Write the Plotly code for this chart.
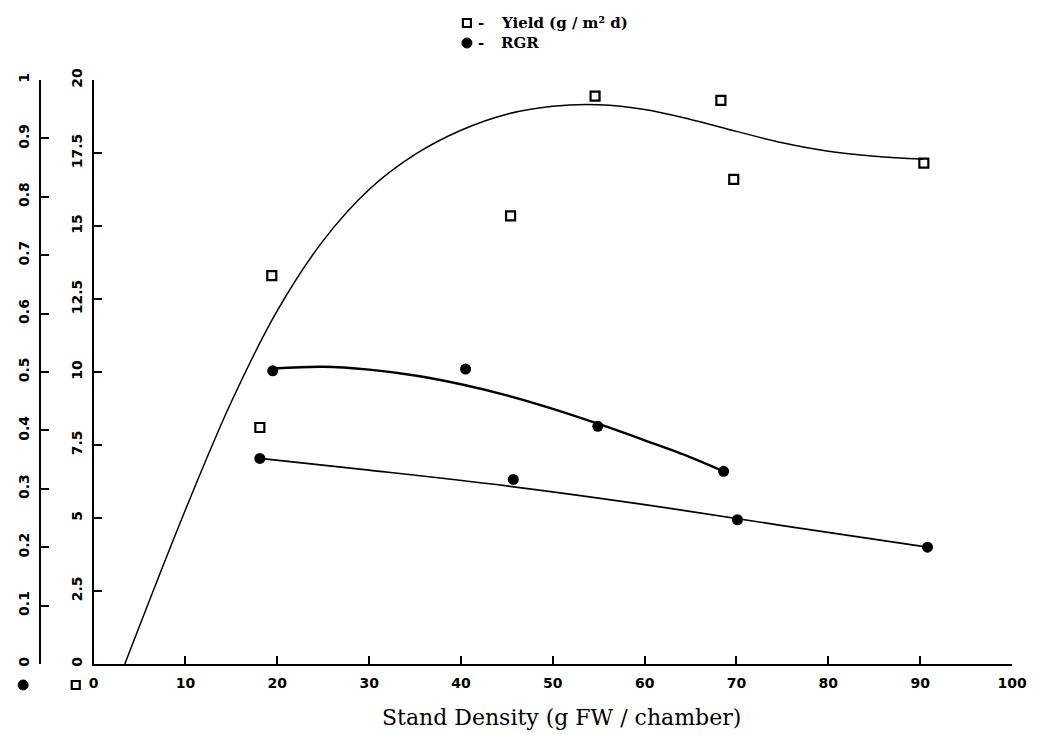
import plotly.graph_objects as go

# ---- data ----
yield_density = [18.1, 19.4, 40.3, 45.4, 54.6, 68.3, 69.7, 90.4]
yield_values = [8.1, 13.3, 20.1, 15.35, 19.45, 19.3, 16.6, 17.15]

rgr_density = [18.1, 19.5, 40.5, 45.7, 54.9, 68.6, 70.1, 90.8]
rgr_values = [0.352, 0.502, 0.505, 0.316, 0.407, 0.330, 0.247, 0.200]

# fitted curves
yield_fit_x = [3.4, 10, 15, 20, 25, 30, 35, 40, 45, 50, 55, 60, 65, 70, 75, 80, 85, 90.3]
yield_fit_y = [0, 5.28, 8.98, 12.1, 14.5, 16.25, 17.45, 18.28, 18.83, 19.1, 19.15, 18.99,
               18.65, 18.24, 17.85, 17.56, 17.39, 17.29]

rgr_fit1_x = [19.6, 25, 30, 35, 40, 45, 50, 55, 60, 65, 68.6]
rgr_fit1_y = [0.506, 0.509, 0.504, 0.494, 0.479, 0.460, 0.437, 0.411, 0.383, 0.354, 0.330]

rgr_fit2_x = [18.1, 30, 45, 60, 75, 90.8]
rgr_fit2_y = [0.352, 0.332, 0.305, 0.273, 0.237, 0.200]

x_ticks = [0, 10, 20, 30, 40, 50, 60, 70, 80, 90, 100]
yield_ticks = [0, 2.5, 5, 7.5, 10, 12.5, 15, 17.5, 20]
yield_ticktext = ["0", "2.5", "5", "7.5", "10", "12.5", "15", "17.5", "20"]
rgr_ticks = [0, 0.1, 0.2, 0.3, 0.4, 0.5, 0.6, 0.7, 0.8, 0.9, 1]
rgr_ticktext = ["0", "0.1", "0.2", "0.3", "0.4", "0.5", "0.6", "0.7", "0.8", "0.9", "1"]

legend_yield = "Yield (g / m² d)"
legend_rgr = "RGR"
x_title = "Stand Density (g FW / chamber)"

# ---- layout geometry (pixels) ----
W, H = 1039, 735
ML, MR, MT, MB = 40, 20, 80, 71
PW = W - ML - MR
PH = H - MT - MB
INNER_X = 94  # pixel position of inner (yield) axis / x=0


def px_x(p):
    return (p - ML) / PW


def px_y(p):
    return (H - MB - p) / PH


tickfont = dict(family="DejaVu Sans, sans-serif", size=14, color="black", weight="bold")
serif = "DejaVu Serif, Liberation Serif, serif"

fig = go.Figure()

fig.add_trace(go.Scatter(x=yield_fit_x, y=yield_fit_y, mode="lines",
                         line=dict(color="black", width=1.5, shape="spline", smoothing=1),
                         yaxis="y", showlegend=False, hoverinfo="skip"))
fig.add_trace(go.Scatter(x=rgr_fit1_x, y=rgr_fit1_y, mode="lines",
                         line=dict(color="black", width=2.4, shape="spline", smoothing=1),
                         yaxis="y2", showlegend=False, hoverinfo="skip"))
fig.add_trace(go.Scatter(x=rgr_fit2_x, y=rgr_fit2_y, mode="lines",
                         line=dict(color="black", width=1.7, shape="spline", smoothing=1),
                         yaxis="y2", showlegend=False, hoverinfo="skip"))

fig.add_trace(go.Scatter(x=yield_density, y=yield_values, mode="markers", name=legend_yield,
                         marker=dict(symbol="square-open", size=9, color="black",
                                     line=dict(width=2.2, color="black")),
                         yaxis="y", cliponaxis=False, showlegend=False))
fig.add_trace(go.Scatter(x=rgr_density, y=rgr_values, mode="markers", name=legend_rgr,
                         marker=dict(symbol="circle", size=11, color="black"),
                         yaxis="y2", cliponaxis=False, showlegend=False))

fig.update_layout(
    width=W, height=H,
    margin=dict(l=ML, r=MR, t=MT, b=MB, pad=0),
    paper_bgcolor="white", plot_bgcolor="white",
    showlegend=False,
    xaxis=dict(domain=[px_x(INNER_X), 1], range=[0, 100], tickvals=x_ticks,
               showgrid=False, zeroline=False, showline=True, linecolor="black", linewidth=2,
               ticks="inside", ticklen=8, tickwidth=1.5, tickcolor="black",
               tickfont=tickfont, ticklabelstandoff=5, anchor="y"),
    yaxis=dict(range=[0, 20], tickvals=yield_ticks, ticktext=yield_ticktext,
               showgrid=False, zeroline=False, showline=True, linecolor="black", linewidth=2,
               ticks="inside", ticklen=8, tickwidth=1.5, tickcolor="black",
               tickangle=-90, tickfont=tickfont, ticklabelstandoff=4, anchor="x"),
    yaxis2=dict(range=[0, 1], tickvals=rgr_ticks, ticktext=rgr_ticktext,
                overlaying="y", anchor="free", position=0, side="left",
                showgrid=False, zeroline=False, showline=True, linecolor="black", linewidth=2,
                ticks="inside", ticklen=8, tickwidth=1.5, tickcolor="black",
                tickangle=-90, tickfont=tickfont, ticklabelstandoff=4),
)

shapes = []
annotations = []

# legend (top centre)
leg_x = px_x(470)
for yy, kind, label in [(23, "square", legend_yield), (43, "circle", legend_rgr)]:
    py = px_y(yy)
    if kind == "square":
        shapes.append(dict(type="rect", xref="paper", yref="paper", xsizemode="pixel",
                           ysizemode="pixel", xanchor=leg_x, yanchor=py,
                           x0=-4, x1=4, y0=-4, y1=4,
                           line=dict(color="black", width=2.2), fillcolor="white"))
    else:
        shapes.append(dict(type="circle", xref="paper", yref="paper", xsizemode="pixel",
                           ysizemode="pixel", xanchor=leg_x, yanchor=py,
                           x0=-5, x1=5, y0=-5, y1=5,
                           line=dict(color="black", width=1), fillcolor="black"))
    annotations.append(dict(x=px_x(479), y=py, xref="paper", yref="paper",
                            xanchor="left", yanchor="middle", showarrow=False,
                            text="<b>-</b>", font=dict(family=serif, size=15, color="black")))
    annotations.append(dict(x=px_x(502), y=py, xref="paper", yref="paper",
                            xanchor="left", yanchor="middle", showarrow=False,
                            text="<b>" + label + "</b>",
                            font=dict(family=serif, size=15, color="black")))

# axis identification markers under the y axes
shapes.append(dict(type="circle", xref="paper", yref="paper", xsizemode="pixel",
                   ysizemode="pixel", xanchor=px_x(23), yanchor=px_y(685),
                   x0=-5, x1=5, y0=-5, y1=5, line=dict(color="black", width=1), fillcolor="black"))
shapes.append(dict(type="rect", xref="paper", yref="paper", xsizemode="pixel",
                   ysizemode="pixel", xanchor=px_x(76), yanchor=px_y(685),
                   x0=-4, x1=4, y0=-4, y1=4, line=dict(color="black", width=2.2), fillcolor="white"))

# x axis title
annotations.append(dict(x=px_x(565), y=px_y(717), xref="paper", yref="paper",
                        xanchor="center", yanchor="middle", showarrow=False,
                        text=x_title, font=dict(family=serif, size=22, color="black")))

fig.update_layout(shapes=shapes, annotations=annotations)

fig.write_html("out.html")
